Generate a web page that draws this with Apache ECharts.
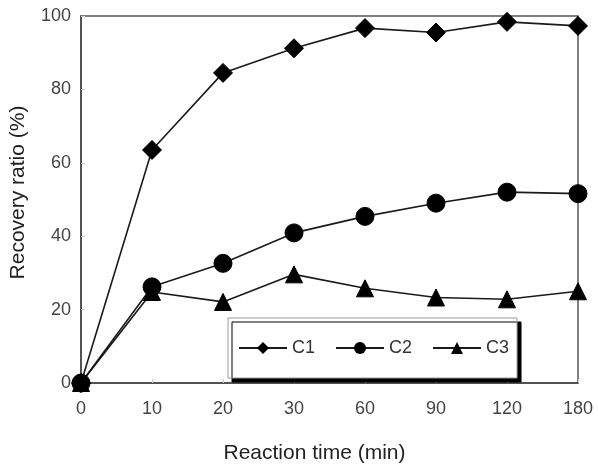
<!DOCTYPE html>
<html>
<head>
<meta charset="utf-8">
<script src="https://cdn.jsdelivr.net/npm/echarts@6/dist/echarts.min.js"></script>
<style>
html,body{margin:0;padding:0;background:#fff;}
#chart{width:598px;height:470px;}
</style>
</head>
<body>
<div id="chart"></div>
<script>
const categories = ['0', '10', '20', '30', '60', '90', '120', '180'];
const c1 = [0, 63.5, 84.5, 91.2, 96.7, 95.5, 98.4, 97.3];
const c2 = [0, 26.2, 32.6, 40.9, 45.4, 49.0, 52.0, 51.6];
const c3 = [0, 24.8, 22.1, 29.6, 25.8, 23.3, 22.8, 25.0];
const seriesNames = ['C1', 'C2', 'C3'];

const chart = echarts.init(document.getElementById('chart'));
const font = 'Liberation Sans, Arial, sans-serif';
const lineCol = '#1a1a1a';
function mk(name, data, symbol, size) {
  return {
    name: name, type: 'line', data: data,
    symbol: symbol, symbolSize: size,
    lineStyle: {color: lineCol, width: 1.6},
    itemStyle: {color: '#000', borderColor: '#000'},
    emphasis: {disabled: true},
    animation: false
  };
}
chart.setOption({
  animation: false,
  backgroundColor: '#fff',
  grid: {left: 81, right: 20, top: 16, bottom: 87, show: true, borderColor: '#555', borderWidth: 1.5, backgroundColor: 'transparent'},
  legend: {
    data: seriesNames,
    left: 228, top: 318,
    orient: 'horizontal',
    padding: [21, 8, 21, 10],
    itemGap: 20,
    itemWidth: 48, itemHeight: 15,
    backgroundColor: '#fff',
    borderColor: '#999', borderWidth: 1,
    shadowColor: '#000', shadowBlur: 0, shadowOffsetX: 4, shadowOffsetY: 4,
    textStyle: {fontFamily: font, fontSize: 18, color: '#333', padding: [0, 0, 0, 0]},
    selectedMode: false
  },
  xAxis: {
    type: 'category', data: categories, boundaryGap: false,
    name: 'Reaction time (min)', nameLocation: 'middle', nameGap: 60,
    nameTextStyle: {fontFamily: font, fontSize: 21, color: '#222', padding: [0, 30, 0, 0]},
    axisLine: {lineStyle: {color: '#444', width: 1.5}},
    axisTick: {show: true, inside: true, length: 4, lineStyle: {color: '#ccc'}},
    axisLabel: {fontFamily: font, fontSize: 18, color: '#444', margin: 17},
    splitLine: {show: false}
  },
  yAxis: {
    type: 'value', min: 0, max: 100, interval: 20,
    name: 'Recovery ratio (%)', nameLocation: 'middle', nameGap: 52,
    nameTextStyle: {fontFamily: font, fontSize: 21, color: '#222', padding: [0, 0, 0, 14]},
    axisLine: {show: true, lineStyle: {color: '#444', width: 1.5}},
    axisTick: {show: true, inside: true, length: 4, lineStyle: {color: '#ccc'}},
    axisLabel: {fontFamily: font, fontSize: 18, color: '#444', margin: 10},
    splitLine: {show: false}
  },
  series: [
    mk('C1', c1, 'diamond', 19),
    mk('C2', c2, 'circle', 18),
    mk('C3', c3, 'triangle', 17)
  ]
});
</script>
</body>
</html>
